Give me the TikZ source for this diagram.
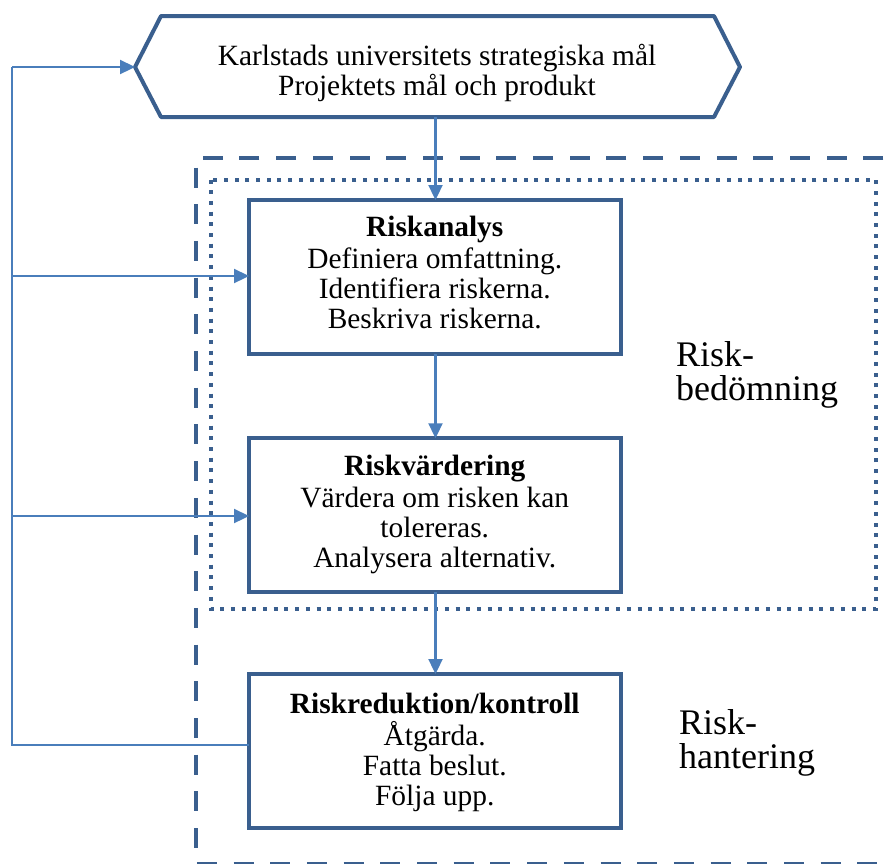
\documentclass[tikz,border=0pt]{standalone}
\usepackage{fontspec}
\setmainfont{Liberation Serif}
\usetikzlibrary{arrows.meta}
\definecolor{boxblue}{HTML}{3A5F8E}
\definecolor{linkblue}{HTML}{4A7EBB}
\begin{document}
\begin{tikzpicture}[x=1pt,y=-1pt,
  stepbox/.style={draw=boxblue, line width=4pt, minimum width=371.5pt, minimum height=154pt, inner sep=0pt, outer sep=0pt},
  boxtext/.style={align=center, inner sep=0pt, font=\fontsize{29.4}{30}\selectfont},
  sidetext/.style={align=left, inner sep=0pt, anchor=west, font=\fontsize{36}{34}\selectfont},
  link/.style={draw=linkblue, line width=2.3pt},
  linkarrow/.style={link, -{Triangle[length=15pt,width=14pt]}},
  dashedframe/.style={draw=boxblue, line width=4pt, dash pattern=on 20pt off 16.7pt},
  dottedframe/.style={draw=boxblue, line width=4pt, dash pattern=on 4pt off 6.7pt}]
\useasboundingbox (0,0) rectangle (887,863);

% frames
\draw[dashedframe] (920,158) -- (195.5,158) -- (195.5,863.5) -- (920,863.5);
\draw[dottedframe] (211,179.5) rectangle (876,609);

% hexagon
\coordinate (hl) at (135,67);
\coordinate (htl) at (161,16);
\coordinate (htr) at (714,16);
\coordinate (hr) at (740,67);
\coordinate (hbr) at (714,117);
\coordinate (hbl) at (161,117);
\draw[draw=boxblue, line width=4pt, line join=round] (hl) -- (htl) -- (htr) -- (hr) -- (hbr) -- (hbl) -- cycle;
\coordinate (hb) at (435.5,117);
\node[boxtext] (htext) at (437,73) {Karlstads universitets strategiska mål\\Projektets mål och produkt};

% boxes
\node[stepbox] (b1) at (434.75,277) {};
\node[stepbox] (b2) at (434.75,515.25) {};
\node[stepbox] (b3) at (434.75,751) {};

\node[boxtext] (t1) at (434.75,272.3) {\textbf{Riskanalys}\\[2pt]Definiera omfattning.\\Identifiera riskerna.\\Beskriva riskerna.};
\node[boxtext] (t2) at (434.75,514.7) {\textbf{Riskvärdering}\\[2pt]Värdera om risken kan\\tolereras.\\Analysera alternativ.};
\node[boxtext] (t3) at (434.75,752) {\textbf{Riskreduktion/kontroll}\\[2pt]Åtgärda.\\Fatta beslut.\\Följa upp.};

% side labels
\node[sidetext] (s1) at (676,375) {Risk-\\bedömning};
\node[sidetext] (s2) at (679,743) {Risk-\\hantering};

% vertical flow
\draw[linkarrow] (hb) -- (b1.north -| hb);
\draw[linkarrow] (b1.south -| hb) -- (b2.north -| hb);
\draw[linkarrow] (b2.south -| hb) -- (b3.north -| hb);

% feedback loop
\coordinate (fb) at (12,745);
\coordinate (ft) at (12,67);
\coordinate (f1) at (12,276);
\coordinate (f2) at (12,516);
\draw[link] (b3.west |- fb) -- (fb) -- (ft);
\draw[linkarrow] (ft) -- (hl);
\draw[linkarrow] (f1) -- (b1.west |- f1);
\draw[linkarrow] (f2) -- (b2.west |- f2);
\end{tikzpicture}
\end{document}
